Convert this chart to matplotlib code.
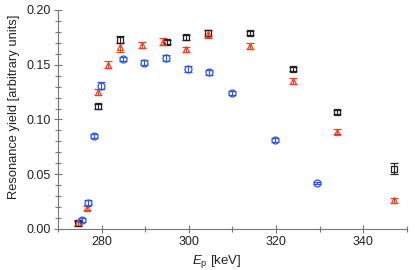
import matplotlib
matplotlib.use('Agg')
import matplotlib.pyplot as plt
from matplotlib.ticker import MultipleLocator, FormatStrFormatter

plt.rcParams['font.family'] = ['Liberation Sans', 'DejaVu Sans']
plt.rcParams['mathtext.fontset'] = 'custom'
plt.rcParams['mathtext.rm'] = 'Liberation Sans'
plt.rcParams['mathtext.it'] = 'Liberation Sans:italic'

# black squares
ep_black = [274.5, 279.2, 284.3, 295.1, 299.4, 304.3, 314.1, 324.0, 333.9, 347.2]
y_black = [0.005, 0.112, 0.173, 0.171, 0.175, 0.179, 0.179, 0.146, 0.107, 0.055]
err_black = [0.002, 0.002, 0.003, 0.002, 0.002, 0.003, 0.002, 0.002, 0.002, 0.005]

# red triangles
ep_red = [274.6, 276.7, 279.2, 281.5, 284.3, 289.3, 294.1, 299.4, 304.3, 314.1, 324.0, 333.9, 347.2]
y_red = [0.006, 0.019, 0.125, 0.150, 0.166, 0.168, 0.171, 0.164, 0.178, 0.167, 0.135, 0.089, 0.026]
err_red = [0.002, 0.002, 0.003, 0.003, 0.004, 0.003, 0.003, 0.002, 0.004, 0.003, 0.003, 0.002, 0.002]

# blue circles
ep_blue = [275.5, 276.9, 278.3, 279.9, 284.9, 289.8, 294.8, 299.9, 304.6, 309.8, 319.7, 329.5]
y_blue = [0.008, 0.024, 0.085, 0.131, 0.155, 0.152, 0.156, 0.146, 0.143, 0.124, 0.081, 0.042]
err_blue = [0.002, 0.002, 0.002, 0.003, 0.002, 0.002, 0.003, 0.003, 0.002, 0.002, 0.002, 0.001]

fig = plt.figure(figsize=(4.15, 2.7), dpi=100)
ax = fig.add_axes([0.14, 0.152, 0.84, 0.811])

common = dict(ls='none', mfc='none', ms=5, mew=0.9, capsize=2.8, elinewidth=0.8, capthick=0.8)
ax.errorbar(ep_black, y_black, yerr=err_black, fmt='s', color='#222222', **common)
ax.errorbar(ep_red, y_red, yerr=err_red, fmt='^', color='#f0401e', **common)
ax.errorbar(ep_blue, y_blue, yerr=err_blue, fmt='o', color='#2a55f0', **common)

ax.set_xlim(270, 350)
ax.set_ylim(0, 0.2)
ax.xaxis.set_major_locator(MultipleLocator(20))
ax.xaxis.set_minor_locator(MultipleLocator(10))
ax.yaxis.set_major_locator(MultipleLocator(0.05))
ax.yaxis.set_minor_locator(MultipleLocator(0.01))
ax.yaxis.set_major_formatter(FormatStrFormatter('%.2f'))

for s in ['top', 'right']:
    ax.spines[s].set_visible(False)
for s in ['left', 'bottom']:
    ax.spines[s].set_color('#777777')
    ax.spines[s].set_linewidth(0.8)

ax.tick_params(which='major', direction='inout', length=6, width=0.8, color='#777777',
               labelsize=9, labelcolor='#222222', pad=2)
ax.tick_params(which='minor', direction='inout', length=4, width=0.8, color='#777777')

ax.set_xlabel(r'$E_\mathrm{p}$ [keV]', fontsize=9.5, color='#222222')
ax.set_ylabel('Resonance yield [arbitrary units]', fontsize=9.3, color='#222222')
ax.xaxis.set_label_coords(0.456, -0.11)
ax.yaxis.set_label_coords(-0.11, 0.56)

fig.savefig('out.png', dpi=100)
